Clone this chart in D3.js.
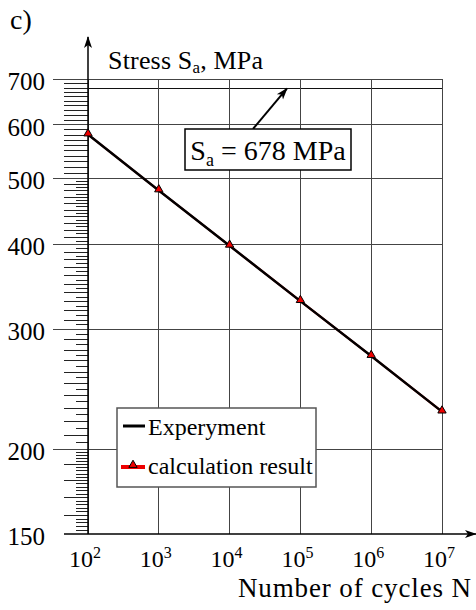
<!DOCTYPE html>
<html lang="en">
<head>
<meta charset="utf-8">
<title>S-N curve</title>
<script src="https://d3js.org/d3.v7.min.js"></script>
<style>
  body { margin: 0; background: #fff; }
  .grid line { stroke: #444; stroke-width: 1; shape-rendering: crispEdges; }
  .minor line { stroke: #222; stroke-width: 1; shape-rendering: crispEdges; }
</style>
</head>
<body>
<div id="chart"></div>
<script>
// data
var cycles = [1e2, 1e3, 1e4, 1e5, 1e6, 1e7];
var experiment = [580, 480, 398, 330, 274, 227];
var calculation = [580, 480, 398, 330, 274, 227];
var yLabels = [150, 200, 300, 400, 500, 600, 700];
var xLabels = [2, 3, 4, 5, 6, 7];
var limitStress = 678;

var W = 476, H = 610;
var margin = {top: 79, right: 34, bottom: 76, left: 88};
var serif = "Liberation Serif";

var svg = d3.select("#chart").append("svg")
    .attr("width", W).attr("height", H);

var x = d3.scaleLog().domain([1e2, 1e7]).range([margin.left, W - margin.right]);
var y = d3.scaleLog().domain([150, 700]).range([H - margin.bottom, margin.top]);

var x0 = x.range()[0], x1 = x.range()[1];
var y0 = y.range()[0], y1 = y.range()[1];

// minor ticks on the stress axis
var longTicks = d3.range(160, 200, 10)
    .concat(d3.range(210, 500, 10))
    .concat(d3.range(510, 700, 10))
    .filter(function(v) { return yLabels.indexOf(v) < 0; });
var shortTicks = d3.range(152, 200, 2).filter(function(v) { return v % 10 != 0; })
    .concat(d3.range(205, 500, 10));

svg.append("g").attr("class", "minor")
    .attr("transform", "translate(" + x0 + ",0)")
    .call(d3.axisLeft(y).tickValues(longTicks).tickSize(24).tickFormat(""))
    .call(function(g) { g.select(".domain").remove(); });
svg.append("g").attr("class", "minor")
    .attr("transform", "translate(" + x0 + ",0)")
    .call(d3.axisLeft(y).tickValues(shortTicks).tickSize(12).tickFormat(""))
    .call(function(g) { g.select(".domain").remove(); });

// horizontal grid + labels
var hg = svg.append("g").attr("class", "grid");
hg.selectAll("line.h").data(yLabels.filter(function(v) { return v > 150; }))
  .enter().append("line")
    .attr("x1", 53).attr("x2", x1)
    .attr("y1", function(d) { return y(d); })
    .attr("y2", function(d) { return y(d); });
hg.append("line")
    .attr("x1", x0).attr("x2", x1)
    .attr("y1", y(limitStress)).attr("y2", y(limitStress))
    .style("stroke", "#111");
hg.selectAll("line.v").data(cycles)
  .enter().append("line")
    .attr("x1", function(d) { return x(d); })
    .attr("x2", function(d) { return x(d); })
    .attr("y1", y1).attr("y2", y0);

svg.selectAll("text.ylab").data(yLabels)
  .enter().append("text")
    .attr("x", 45)
    .attr("y", function(d) { return y(d) + 11; })
    .attr("text-anchor", "end")
    .attr("font-family", serif).attr("font-size", 25)
    .text(function(d) { return d; });

// x labels 10^n
var xl = svg.selectAll("text.xlab").data(xLabels)
  .enter().append("text")
    .attr("x", function(d) { return x(Math.pow(10, d)) - 3; })
    .attr("y", 567)
    .attr("text-anchor", "middle")
    .attr("font-family", serif).attr("font-size", 24);
xl.append("tspan").text("10");
xl.append("tspan").attr("dy", -9).attr("font-size", 16)
    .text(function(d) { return d; });

// axes with arrows
svg.append("defs").append("marker")
    .attr("id", "arr").attr("viewBox", "0 0 12 10")
    .attr("refX", 11).attr("refY", 5)
    .attr("markerWidth", 12).attr("markerHeight", 10)
    .attr("markerUnits", "userSpaceOnUse")
    .attr("orient", "auto")
  .append("path").attr("d", "M0,1 L12,5 L0,9 L3,5 Z").attr("fill", "#000");

svg.append("line")
    .attr("x1", 64).attr("x2", 476)
    .attr("y1", y0).attr("y2", y0)
    .attr("stroke", "#000").attr("stroke-width", 1.5)
    .attr("marker-end", "url(#arr)");
svg.append("line")
    .attr("x1", x0).attr("x2", x0)
    .attr("y1", y0).attr("y2", 37)
    .attr("stroke", "#000").attr("stroke-width", 1.5)
    .attr("marker-end", "url(#arr)");

// curves
var pts = cycles.map(function(c, i) { return [c, calculation[i]]; });
var line = d3.line()
    .x(function(d) { return x(d[0]); })
    .y(function(d) { return y(d[1]); });

svg.append("path").datum(pts)
    .attr("d", line).attr("fill", "none")
    .attr("stroke", "#e00").attr("stroke-width", 2);
svg.append("path").datum(cycles.map(function(c, i) { return [c, experiment[i]]; }))
    .attr("d", line).attr("fill", "none")
    .attr("stroke", "#000").attr("stroke-width", 2.5);

var tri = d3.symbol().type(d3.symbolTriangle).size(30);
svg.selectAll("path.mk").data(pts)
  .enter().append("path")
    .attr("d", tri)
    .attr("transform", function(d) { return "translate(" + x(d[0]) + "," + (y(d[1]) - 1) + ")"; })
    .attr("fill", "#e00").attr("stroke", "#000").attr("stroke-width", 1);

// annotation arrow and box
svg.append("line")
    .attr("x1", 253).attr("y1", 129)
    .attr("x2", 287).attr("y2", y(limitStress))
    .attr("stroke", "#000").attr("stroke-width", 2)
    .attr("marker-end", "url(#arr)");
svg.append("rect")
    .attr("x", 185).attr("y", 129).attr("width", 166).attr("height", 41)
    .attr("fill", "#fff").attr("stroke", "#000").attr("stroke-width", 1.5);
var ann = svg.append("text").attr("x", 268).attr("y", 160)
    .attr("text-anchor", "middle")
    .attr("font-family", serif).attr("font-size", 28);
ann.append("tspan").text("S");
ann.append("tspan").attr("dy", 6).attr("font-size", 18).text("a");
ann.append("tspan").attr("dy", -6).text(" = " + limitStress + " MPa");

// titles
svg.append("text").attr("x", 10).attr("y", 29)
    .attr("font-family", serif).attr("font-size", 28).text("c)");
var st = svg.append("text").attr("x", 108).attr("y", 69)
    .attr("font-family", serif).attr("font-size", 26)
    .attr("textLength", 155).attr("lengthAdjust", "spacing");
st.append("tspan").text("Stress S");
st.append("tspan").attr("dy", 4).attr("font-size", 17).text("a");
st.append("tspan").attr("dy", -4).text(", MPa");

svg.append("text").attr("x", 238).attr("y", 597)
    .attr("font-family", serif).attr("font-size", 27)
    .attr("textLength", 233).attr("lengthAdjust", "spacing")
    .text("Number of cycles N");

// legend
var lg = svg.append("g");
lg.append("rect")
    .attr("x", 117).attr("y", 408).attr("width", 199).attr("height", 79)
    .attr("fill", "#fff").attr("stroke", "#555").attr("stroke-width", 1.5);
lg.append("line").attr("x1", 123).attr("x2", 145).attr("y1", 426).attr("y2", 426)
    .attr("stroke", "#000").attr("stroke-width", 3);
lg.append("text").attr("x", 148).attr("y", 435)
    .attr("font-family", serif).attr("font-size", 24).text("Experyment");
lg.append("line").attr("x1", 121).attr("x2", 145).attr("y1", 467).attr("y2", 467)
    .attr("stroke", "#e00").attr("stroke-width", 4);
lg.append("path").attr("d", tri)
    .attr("transform", "translate(133,465)")
    .attr("fill", "#e00").attr("stroke", "#000").attr("stroke-width", 1);
lg.append("text").attr("x", 148).attr("y", 474)
    .attr("font-family", serif).attr("font-size", 24).text("calculation result");
</script>
</body>
</html>
